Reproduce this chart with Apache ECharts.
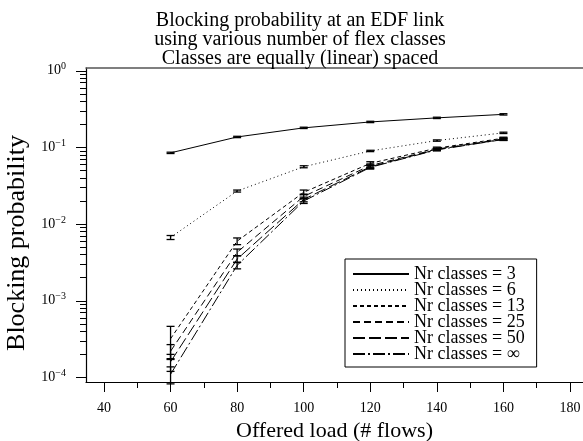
<!DOCTYPE html>
<html>
<head>
<meta charset="UTF-8">
<title>Blocking probability</title>
<script src="https://cdn.jsdelivr.net/npm/echarts@6/dist/echarts.min.js"></script>
</head>
<body style="margin:0">
<div id="main" style="width:583px;height:441px;"></div>
<script>
// offered load (x)
var loads = [60, 80, 100, 120, 140, 160];
// blocking probability per number of classes
var c3   = [0.085, 0.137, 0.180, 0.215, 0.243, 0.270];
var c6   = [0.0067, 0.027, 0.056, 0.090, 0.123, 0.155];
var c13  = [3.2e-4, 6.0e-3, 0.026, 0.062, 0.098, 0.132];
var c25  = [2.2e-4, 4.3e-3, 0.023, 0.058, 0.095, 0.129];
var c50  = [1.6e-4, 3.5e-3, 0.021, 0.056, 0.094, 0.128];
var cInf = [1.1e-4, 2.9e-3, 0.020, 0.055, 0.093, 0.127];
// relative half width of the error bars
var e3   = [0.02, 0.02, 0.02, 0.02, 0.02, 0.02];
var e6   = [0.06, 0.03, 0.03, 0.02, 0.02, 0.02];
var e13  = [0.45, 0.10, 0.07, 0.05, 0.03, 0.03];
var e25  = [0.22, 0.10, 0.07, 0.05, 0.03, 0.03];
var e50  = [0.25, 0.10, 0.07, 0.05, 0.03, 0.03];
var eInf = [0.25, 0.10, 0.07, 0.05, 0.03, 0.03];

var names = ['Nr classes = 3', 'Nr classes = 6', 'Nr classes = 13',
             'Nr classes = 25', 'Nr classes = 50', 'Nr classes = \u221e'];
var dashes = ['solid', [1, 3], [4, 3], [7, 4], [12, 4], [12, 3, 2, 3]];
var values = [c3, c6, c13, c25, c50, cInf];
var errs = [e3, e6, e13, e25, e50, eInf];

// ticks
var xMajor = [40, 60, 80, 100, 120, 140, 160, 180];
var xMinor = [50, 70, 90, 110, 130, 150, 170];
var yDecades = [-4, -3, -2, -1, 0];
var mantissas = [2, 3, 4, 5, 6, 7, 8, 9];
var yMinor = [];
for (var d = -4; d < 0; d++) {
    for (var k = 0; k < mantissas.length; k++) yMinor.push(d + Math.log10(mantissas[k]));
}

var font = 'Liberation Serif';
var myChart = echarts.init(document.getElementById('main'));

var series = [];
for (var i = 0; i < values.length; i++) {
    var line = [], bars = [];
    for (var j = 0; j < loads.length; j++) {
        var v = values[i][j], e = errs[i][j];
        line.push([loads[j], Math.log10(v)]);
        bars.push([loads[j], Math.log10(v * (1 - e)), Math.log10(v * (1 + e))]);
    }
    series.push({
        name: names[i],
        type: 'line',
        data: line,
        symbol: 'none',
        lineStyle: { color: '#000', width: 1, type: dashes[i] },
        itemStyle: { color: '#000' },
        z: 3
    });
    series.push({
        type: 'custom',
        data: bars,
        z: 4,
        renderItem: function (params, api) {
            var x = api.value(0);
            var lo = api.coord([x, api.value(1)]);
            var hi = api.coord([x, api.value(2)]);
            var w = 4;
            var st = { stroke: '#000', lineWidth: 1.3 };
            return {
                type: 'group',
                children: [
                    { type: 'line', shape: { x1: lo[0], y1: lo[1], x2: hi[0], y2: hi[1] }, style: st },
                    { type: 'line', shape: { x1: lo[0] - w, y1: lo[1], x2: lo[0] + w, y2: lo[1] }, style: st },
                    { type: 'line', shape: { x1: hi[0] - w, y1: hi[1], x2: hi[0] + w, y2: hi[1] }, style: st }
                ]
            };
        }
    });
}

myChart.setOption({
    animation: false,
    textStyle: { fontFamily: font, color: '#000' },
    title: {
        text: 'Blocking probability at an EDF link\nusing various number of flex classes\nClasses are equally (linear) spaced',
        left: 295,
        top: 6,
        textAlign: 'center',
        textStyle: { fontFamily: font, fontSize: 20, fontWeight: 'normal', lineHeight: 19, color: '#000' }
    },
    legend: {
        data: names,
        orient: 'vertical',
        left: 345,
        top: 259,
        padding: [6, 12, 4, 7],
        itemGap: -2,
        itemWidth: 56,
        itemHeight: 14,
        itemTextGap: 8,
        itemStyle: { opacity: 0, borderWidth: 0 },
        borderColor: '#000',
        borderWidth: 1,
        backgroundColor: '#fff',
        textStyle: { fontFamily: font, fontSize: 18, lineHeight: 16, color: '#000' }
    },
    grid: { left: 86, top: 68, right: 0, bottom: 59, containLabel: false, outerBoundsMode: 'none' },
    xAxis: [{
        type: 'value', min: 34.6, max: 183.9,
        name: 'Offered load (# flows)',
        nameLocation: 'middle', nameGap: 34,
        nameTextStyle: { fontFamily: font, fontSize: 22, color: '#000' },
        axisLine: { onZero: false, lineStyle: { color: '#000', width: 1.2 } },
        axisTick: { show: true, customValues: xMajor, length: 10, lineStyle: { color: '#000', width: 1 } },
        axisLabel: { customValues: xMajor, margin: 19, fontFamily: font, fontSize: 14, color: '#000' },
        splitLine: { show: false }
    }, {
        type: 'value', min: 34.6, max: 183.9, position: 'bottom',
        axisLine: { show: false, onZero: false },
        axisTick: { show: true, customValues: xMinor, length: 6, lineStyle: { color: '#000', width: 1 } },
        axisLabel: { show: false },
        splitLine: { show: false }
    }, {
        type: 'value', min: 34.6, max: 183.9, position: 'top',
        axisLine: { onZero: false, lineStyle: { color: '#555', width: 1.5 } },
        axisTick: { show: false },
        axisLabel: { show: false },
        splitLine: { show: false }
    }],
    yAxis: [{
        type: 'value', min: -4.059, max: 0.036, position: 'left',
        name: 'Blocking probability',
        nameLocation: 'middle', nameGap: 53,
        nameTextStyle: { fontFamily: font, fontSize: 26, color: '#000', padding: [0, 36, 0, 0] },
        axisLine: { onZero: false, lineStyle: { color: '#000', width: 1.2 } },
        axisTick: { show: true, customValues: yDecades, length: 10, lineStyle: { color: '#000', width: 1 } },
        axisLabel: {
            customValues: yDecades, margin: 20,
            formatter: function (v) {
                var p = Math.round(v);
                return '{b|10}{s|' + (p < 0 ? '\u2212' + (-p) : p) + '}';
            },
            rich: {
                b: { fontFamily: font, fontSize: 14, color: '#000' },
                s: { fontFamily: font, fontSize: 10, color: '#000', verticalAlign: 'top', padding: [0, 0, 8, 0] }
            }
        },
        splitLine: { show: false }
    }, {
        type: 'value', min: -4.059, max: 0.036, position: 'left',
        axisLine: { show: false, onZero: false },
        axisTick: { show: true, customValues: yMinor, length: 6, lineStyle: { color: '#000', width: 1 } },
        axisLabel: { show: false },
        splitLine: { show: false }
    }],
    series: series
});
</script>
</body>
</html>
